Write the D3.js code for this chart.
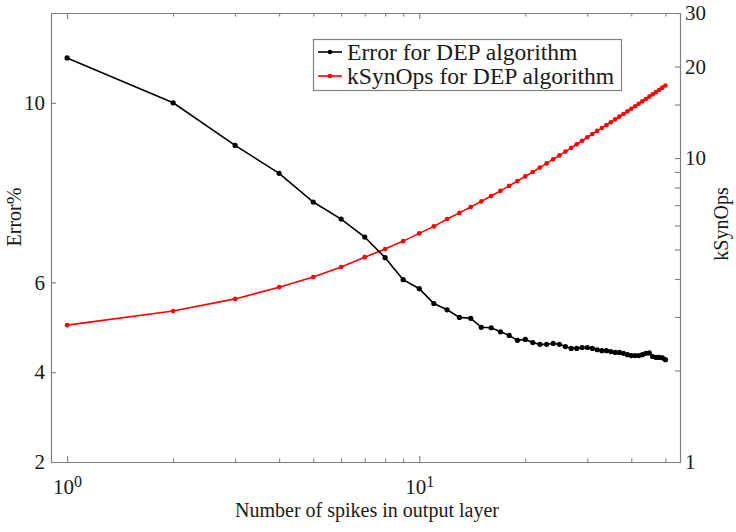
<!DOCTYPE html>
<html><head><meta charset="utf-8">
<script src="https://cdn.jsdelivr.net/npm/d3@7"></script>
<style>
body{margin:0;background:#fff;}
svg{display:block;font-family:"Liberation Serif","Times New Roman",serif;}
</style></head>
<body><svg id="c" width="736" height="532"></svg>
<script>
const spikes = d3.range(1, 51);
const errorPct = [11.0,10.0,9.05,8.43,7.79,7.41,7.01,6.55,6.06,5.86,
  5.53,5.39,5.22,5.20,5.00,4.99,4.90,4.82,4.71,4.73,
  4.66,4.62,4.62,4.64,4.62,4.57,4.53,4.53,4.55,4.55,
  4.53,4.50,4.48,4.48,4.46,4.44,4.44,4.42,4.39,4.37,
  4.37,4.37,4.39,4.42,4.43,4.35,4.33,4.33,4.32,4.28];
const kSynOps = [2.82,3.14,3.44,3.76,4.06,4.38,4.72,5.02,5.33,5.65,
  5.96,6.30,6.60,6.90,7.20,7.50,7.80,8.10,8.40,8.70,
  9.00,9.30,9.60,9.90,10.20,10.50,10.80,11.10,11.40,11.70,
  12.00,12.28,12.56,12.84,13.12,13.40,13.68,13.96,14.24,14.52,
  14.80,15.08,15.36,15.64,15.92,16.20,16.48,16.76,17.04,17.32];
const xMajor = [1, 10];
const xMinor = [2,3,4,5,6,7,8,9,20,30,40,50];
const yLeftTicks = [2,4,6,10];
const yRightTicks = [1,2,3,4,5,6,7,8,9,10,15,20,30];
const yRightLabels = [1,10,20,30];
const legendLabels = ["Error for DEP algorithm","kSynOps for DEP algorithm"];
const xLabel = "Number of spikes in output layer";
const yLeftLabel = "Error%";
const yRightLabel = "kSynOps";

const L=51,R=680,T=13,B=462;
const svg = d3.select("#c");
const x = d3.scaleLog().domain([0.9,55]).range([L,R]);
const yl = d3.scaleLinear().domain([2,12]).range([B,T]);
const yr = d3.scaleLog().domain([1,30]).range([B,T]);
const axisCol="#808080", txtCol="#1a1a1a";

function style(g){
  g.select(".domain").attr("stroke",axisCol).attr("stroke-width",1.2);
  g.selectAll(".tick line").attr("stroke",axisCol).attr("stroke-width",1.1);
  g.selectAll(".tick text").attr("fill",txtCol).attr("font-size",21).attr("font-family","Liberation Serif");
}
// bottom
const gb = svg.append("g").attr("transform",`translate(0,${B})`)
  .call(d3.axisBottom(x).tickValues(xMajor).tickSize(-6).tickSizeOuter(0).tickPadding(17).tickFormat(()=>"" ));
style(gb);
gb.selectAll(".tick text").each(function(d){
  const t=d3.select(this); t.text(null);
  t.append("tspan").text("10");
  t.append("tspan").attr("dy","-0.45em").attr("font-size",16).text(Math.round(Math.log10(d)));
});
const gbm = svg.append("g").attr("transform",`translate(0,${B})`)
  .call(d3.axisBottom(x).tickValues(xMinor).tickSize(-3.5).tickSizeOuter(0).tickFormat(""));
style(gbm);
// top
const gt = svg.append("g").attr("transform",`translate(0,${T})`)
  .call(d3.axisTop(x).tickValues(xMajor).tickSize(-6).tickSizeOuter(0).tickFormat(""));
style(gt);
const gtm = svg.append("g").attr("transform",`translate(0,${T})`)
  .call(d3.axisTop(x).tickValues(xMinor).tickSize(-3.5).tickSizeOuter(0).tickFormat(""));
style(gtm);
// left
const gl = svg.append("g").attr("transform",`translate(${L},0)`)
  .call(d3.axisLeft(yl).tickValues(yLeftTicks).tickSize(-5).tickSizeOuter(0).tickPadding(6).tickFormat(d3.format("d")));
style(gl);
// right
const gr = svg.append("g").attr("transform",`translate(${R},0)`)
  .call(d3.axisRight(yr).tickValues(yRightTicks).tickSize(-5).tickSizeOuter(0).tickPadding(5)
    .tickFormat(d=> yRightLabels.includes(d)? String(d):""));
style(gr);

// lines
const lineE = d3.line().x((d,i)=>x(spikes[i])).y(d=>yl(d));
const lineK = d3.line().x((d,i)=>x(spikes[i])).y(d=>yr(d));
svg.append("path").datum(kSynOps).attr("d",lineK).attr("fill","none").attr("stroke","#ff0000").attr("stroke-width",1.6);
svg.append("g").selectAll("circle").data(kSynOps).join("circle")
  .attr("cx",(d,i)=>x(spikes[i])).attr("cy",d=>yr(d)).attr("r",2.3).attr("fill","#ff0000");
svg.append("path").datum(errorPct).attr("d",lineE).attr("fill","none").attr("stroke","#000").attr("stroke-width",1.6);
svg.append("g").selectAll("circle").data(errorPct).join("circle")
  .attr("cx",(d,i)=>x(spikes[i])).attr("cy",d=>yl(d)).attr("r",2.6).attr("fill","#000");

// legend
const lg = svg.append("g");
lg.append("rect").attr("x",313.5).attr("y",39.5).attr("width",308).attr("height",51)
  .attr("fill","#fff").attr("stroke",axisCol).attr("stroke-width",1.2);
const lcols=["#000","#ff0000"];
legendLabels.forEach((s,i)=>{
  const cy = 52+i*24;
  lg.append("line").attr("x1",318).attr("x2",342).attr("y1",cy).attr("y2",cy).attr("stroke",lcols[i]).attr("stroke-width",1.6);
  lg.append("circle").attr("cx",330).attr("cy",cy).attr("r",2.3).attr("fill",lcols[i]);
  lg.append("text").attr("x",347).attr("y",cy+8).attr("font-size",23.6).attr("fill",txtCol).text(s);
});

// axis labels
svg.append("text").attr("x",367).attr("y",517).attr("text-anchor","middle").attr("font-size",20).attr("fill",txtCol).text(xLabel);
svg.append("text").attr("transform","translate(21,217) rotate(-90)").attr("text-anchor","middle").attr("font-size",20).attr("fill",txtCol).text(yLeftLabel);
svg.append("text").attr("transform","translate(728,224) rotate(-90)").attr("text-anchor","middle").attr("font-size",20).attr("fill",txtCol).text(yRightLabel);
</script></body></html>
